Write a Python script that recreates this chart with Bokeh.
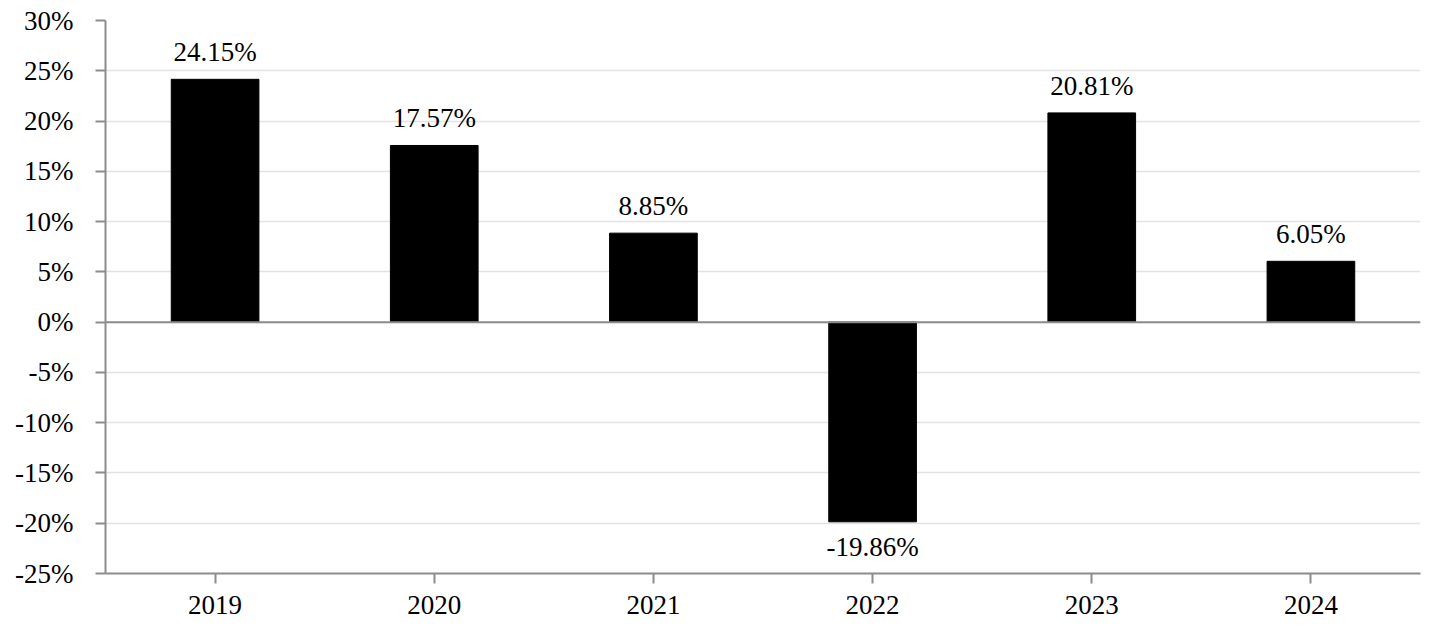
from bokeh.plotting import figure
from bokeh.models import ColumnDataSource, Span, FixedTicker, PrintfTickFormatter, Range1d
from bokeh.core.properties import value
from bokeh.embed import file_html
from bokeh.resources import INLINE

years = ["2019", "2020", "2021", "2022", "2023", "2024"]
returns = [24.15, 17.57, 8.85, -19.86, 20.81, 6.05]
y_ticks = [-25, -20, -15, -10, -5, 0, 5, 10, 15, 20, 25, 30]

FONT = "Liberation Serif"
FS = "27px"
AXIS_COLOR = "#8c8c8c"

labels = [f"{v:.2f}%" for v in returns]
pos = [i for i, v in enumerate(returns) if v >= 0]
neg = [i for i, v in enumerate(returns) if v < 0]

src = ColumnDataSource(dict(x=years, top=returns, label=labels))
src_pos = ColumnDataSource(dict(x=[years[i] for i in pos], y=[returns[i] for i in pos], label=[labels[i] for i in pos]))
src_neg = ColumnDataSource(dict(x=[years[i] for i in neg], y=[returns[i] for i in neg], label=[labels[i] for i in neg]))

p = figure(x_range=years, y_range=Range1d(-25, 30), width=1440, height=640,
           output_backend="svg", toolbar_location=None,
           min_border_left=105, min_border_right=20, min_border_top=20, min_border_bottom=67)
p.outline_line_color = None

p.vbar(x="x", top="top", bottom=0, width=0.4, source=src, color="black")

p.text(x="x", y="y", text="label", source=src_pos, text_align="center", text_baseline="middle",
       y_offset=-27, text_font=value(FONT), text_font_size=FS, text_color="black")
p.text(x="x", y="y", text="label", source=src_neg, text_align="center", text_baseline="top",
       y_offset=10, text_font=value(FONT), text_font_size=FS, text_color="black")

p.add_layout(Span(location=0, dimension="width", line_color=AXIS_COLOR, line_width=2))

p.xgrid.grid_line_color = None
p.ygrid.grid_line_color = "#e3e3e3"
p.ygrid.grid_line_width = 1.5
p.yaxis.ticker = FixedTicker(ticks=y_ticks)
p.yaxis.formatter = PrintfTickFormatter(format="%d%%")

for ax in (p.xaxis, p.yaxis):
    ax.axis_line_color = AXIS_COLOR
    ax.axis_line_width = 2
    ax.major_tick_line_color = AXIS_COLOR
    ax.major_tick_line_width = 2
    ax.major_tick_out = 10
    ax.major_tick_in = 0
    ax.minor_tick_line_color = None
    ax.major_label_text_font = FONT
    ax.major_label_text_font_size = FS
    ax.major_label_text_color = "black"

p.yaxis.major_label_standoff = 22
p.xaxis.major_label_standoff = 12

open("out.html", "w").write(file_html(p, INLINE))
